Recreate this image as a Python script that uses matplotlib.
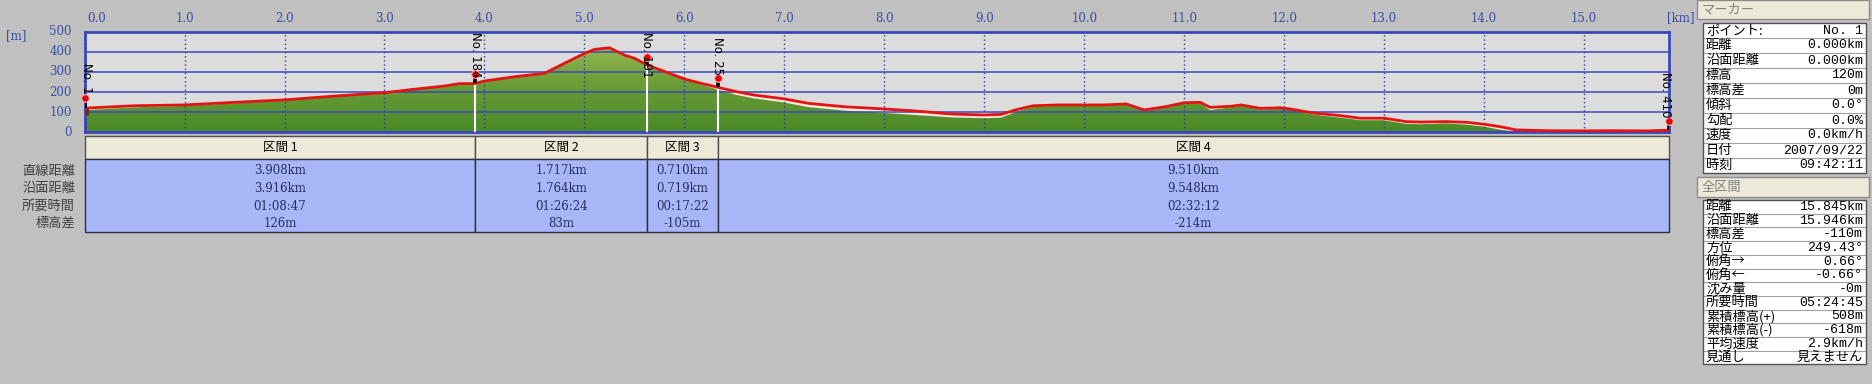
import numpy as np
import matplotlib
matplotlib.use("Agg")
import matplotlib.pyplot as plt
from matplotlib.patches import Rectangle
from matplotlib.colors import LinearSegmentedColormap

plt.rcParams['font.family'] = ['Noto Sans CJK JP', 'DejaVu Sans']

# ---- data ----
km = [0, 0.5, 1.0, 1.5, 2.0, 2.5, 3.0, 3.3, 3.6, 3.75, 3.9, 4.0, 4.3, 4.6, 4.8,
      5.0, 5.1, 5.25, 5.4, 5.5, 5.63, 5.81, 6.0, 6.17, 6.35, 6.52, 6.7, 7.0,
      7.24, 7.6, 8.0, 8.31, 8.67, 9.0, 9.17, 9.31, 9.49, 9.74, 10.0, 10.2,
      10.42, 10.6, 10.81, 11.0, 11.16, 11.26, 11.46, 11.57, 11.76, 11.96,
      12.06, 12.29, 12.56, 12.76, 13.0, 13.12, 13.22, 13.36, 13.62, 13.82,
      14.0, 14.16, 14.32, 14.62, 15.0, 15.29, 15.62, 15.845]
track = [120, 132, 136, 149, 161, 180, 197, 214, 230, 242, 242, 255, 276, 293,
         343, 392, 412, 420, 384, 368, 334, 301, 265, 243, 222, 202, 185, 166,
         144, 127, 116, 106, 91, 86, 89, 111, 132, 136, 136, 136, 141, 111,
         127, 147, 149, 124, 129, 136, 119, 122, 116, 96, 83, 70, 70, 61, 53,
         51, 53, 50, 40, 28, 12, 8, 7, 8, 7, 10]
ground = [110, 124, 131, 144, 157, 178, 200, 212, 228, 238, 240, 252, 274, 292,
          345, 395, 410, 415, 380, 365, 330, 296, 260, 237, 210, 186, 168, 148,
          125, 108, 96, 86, 74, 70, 73, 100, 127, 132, 133, 132, 136, 105,
          122, 144, 145, 110, 124, 132, 112, 117, 112, 88, 73, 60, 60, 50, 42,
          40, 44, 38, 28, 13, 3, 2, 2, 2, 2, 3]

sec_names = ['区間 1', '区間 2', '区間 3', '区間 4']
sec_dist = [3.908, 1.717, 0.710, 9.510]
sec_surf = ['3.916km', '1.764km', '0.719km', '9.548km']
sec_time = ['01:08:47', '01:26:24', '00:17:22', '02:32:12']
sec_dh = ['126m', '83m', '-105m', '-214m']
row_names = ['直線距離', '沿面距離', '所要時間', '標高差']

marker_names = ['No. 1', 'No. 184', 'No. 191', 'No. 25', 'No. 410']
pin_elev = [172, 290, 376, 268, 58]
label_top = [343, 500, 500, 475, 301]

marker_rows = [('ポイント:', 'No. 1'), ('距離', '0.000km'), ('沿面距離', '0.000km'),
               ('標高', '120m'), ('標高差', '0m'), ('傾斜', '0.0°'),
               ('勾配', '0.0%'), ('速度', '0.0km/h'), ('日付', '2007/09/22'),
               ('時刻', '09:42:11')]
total_rows = [('距離', '15.845km'), ('沿面距離', '15.946km'), ('標高差', '-110m'),
              ('方位', '249.43°'), ('俯角→', '0.66°'), ('俯角←', '-0.66°'),
              ('沈み量', '-0m'), ('所要時間', '05:24:45'), ('累積標高(+)', '508m'),
              ('累積標高(-)', '-618m'), ('平均速度', '2.9km/h'), ('見通し', '見えません')]

W, H = 1872, 384
X0, X1, Y0, Y1 = 84.6, 1669, 31.7, 132.3
XMAX = 15.85
BLUE = '#3c48b8'
TXT_BLUE = '#3a4ea8'


def rect(x0, y0, x1, y1):
    return [x0 / W, 1 - y1 / H, (x1 - x0) / W, (y1 - y0) / H]


def kmpx(v):
    return X0 + v * (X1 - X0) / XMAX


fig = plt.figure(figsize=(W / 100, H / 100), dpi=100, facecolor='#c0c0c0')

# ---- elevation profile ----
ax = fig.add_axes(rect(X0, Y0, X1, Y1))
ax.set_facecolor('#dcdcdc')
ax.fill_between(km, 0, track, color='#f6e8dc', lw=0, zorder=1)
poly = ax.fill_between(km, 0, ground, facecolor='none', lw=0, zorder=1.2)
cmap = LinearSegmentedColormap.from_list('g', ['#4a8a28', '#6c9e38', '#a6c25c'])
grad = np.linspace(0, 1, 256).reshape(-1, 1)
im = ax.imshow(grad, extent=[0, XMAX, 0, 500], origin='lower', aspect='auto',
               cmap=cmap, zorder=1.5)
im.set_clip_path(poly.get_paths()[0], transform=ax.transData)

ax.set_xlim(0, XMAX)
ax.set_ylim(0, 500)
ax.set_xticks(range(16))
ax.set_yticks(range(0, 501, 100))
ax.set_axisbelow(False)
ax.xaxis.grid(True, linestyle=(0, (1, 2)), color='#2c3c9c', lw=1)
ax.yaxis.grid(True, linestyle='-', color=BLUE, lw=1.1)
ax.tick_params(length=0, labelbottom=False, labelleft=False)
for s in ax.spines.values():
    s.set_color(BLUE)
    s.set_linewidth(2)

mk_km = [0] + list(np.cumsum(sec_dist))
mk_el = np.interp(mk_km, km, track)
ax.vlines(mk_km[1:4], 0, mk_el[1:4], colors='white', lw=1.5, zorder=3)
ax.plot(km, track, color='#e41414', lw=2.0, zorder=4)
ax.vlines(mk_km, mk_el, pin_elev, colors='black', lw=2.6, zorder=5)
ax.vlines(mk_km[0], 85, mk_el[0], colors='#7a2a1a', lw=5, zorder=5)
ax.scatter(mk_km, pin_elev, s=30, color='#e00000', edgecolor='#ffb0b0',
           linewidth=0.8, zorder=6, clip_on=False)
for x, name, top in zip(mk_km, marker_names, label_top):
    xx = min(max(x, 0.02), XMAX - 0.04)
    ax.text(xx, top, name, rotation=-90, rotation_mode='anchor', ha='left',
            va='center', fontsize=8.5, color='black', family='DejaVu Sans',
            zorder=7, clip_on=False)

# ---- overlay in pixel coordinates ----
ov = fig.add_axes([0, 0, 1, 1], zorder=10)
ov.set_xlim(0, W)
ov.set_ylim(H, 0)
ov.axis('off')

for k in range(16):
    xp = kmpx(k) + (12 if k == 0 else 0)
    ov.text(xp, 18, '%.1f' % k, ha='center', va='center', fontsize=8.5,
            color=TXT_BLUE, family='DejaVu Serif')
ov.text(1667, 18, '[km]', ha='left', va='center', fontsize=8.5,
        color=TXT_BLUE, family='DejaVu Serif')
ov.text(6, 36, '[m]', ha='left', va='center', fontsize=8.5, color=TXT_BLUE,
        family='DejaVu Serif')
for v in range(0, 501, 100):
    yp = Y1 - v * (Y1 - Y0) / 500
    ov.text(72, yp, str(v), ha='right', va='center', fontsize=8.5,
            color=TXT_BLUE, family='DejaVu Serif')

# section table
HT, HB, DB = 136, 159, 232
edges = [kmpx(v) for v in mk_km]
for i, name in enumerate(sec_names):
    xa, xb = edges[i], edges[i + 1]
    ov.add_patch(Rectangle((xa, HT), xb - xa, HB - HT, facecolor='#ece9d8',
                           edgecolor='#505050', lw=1))
    ov.add_patch(Rectangle((xa, HB), xb - xa, DB - HB, facecolor='#a6b6f6',
                           edgecolor='#303040', lw=1))
    ov.text((xa + xb) / 2, (HT + HB) / 2, name, ha='center', va='center',
            fontsize=9, color='black')
    vals = ['%.3fkm' % sec_dist[i], sec_surf[i], sec_time[i], sec_dh[i]]
    for j, v in enumerate(vals):
        ov.text((xa + xb) / 2, 171 + 17.5 * j, v, ha='center', va='center',
                fontsize=8.5, color='#283060', family='DejaVu Serif')
for j, name in enumerate(row_names):
    ov.text(75, 171 + 17.5 * j, name, ha='right', va='center', fontsize=9.5,
            color='#404040')


# right hand panels
def panel_header(y0, y1, title):
    ov.add_patch(Rectangle((1697, y0), 1869 - 1697, y1 - y0, facecolor='#ece9d8',
                           edgecolor='#8c8c8c', lw=1))
    ov.text(1702, (y0 + y1) / 2, title, ha='left', va='center', fontsize=9.5,
            color='#808080')


def panel_table(y0, rh, rows):
    ov.add_patch(Rectangle((1703, y0), 1866 - 1703, rh * len(rows),
                           facecolor='white', edgecolor='#505050', lw=1))
    for i, (lab, val) in enumerate(rows):
        yc = y0 + rh * (i + 0.5)
        if i > 0:
            ov.plot([1704, 1865], [y0 + rh * i] * 2, color='#a0a0a0', lw=0.8)
        ov.text(1706, yc, lab, ha='left', va='center', fontsize=9.5, color='black')
        ov.text(1863, yc, val, ha='right', va='center', fontsize=9.5,
                color='black', family=['Liberation Mono', 'Noto Sans CJK JP'])


panel_header(0, 19, 'マーカー')
panel_table(23, 15, marker_rows)
panel_header(177, 197, '全区間')
panel_table(200, 13.7, total_rows)

fig.savefig('out.png', dpi=100, facecolor=fig.get_facecolor())
